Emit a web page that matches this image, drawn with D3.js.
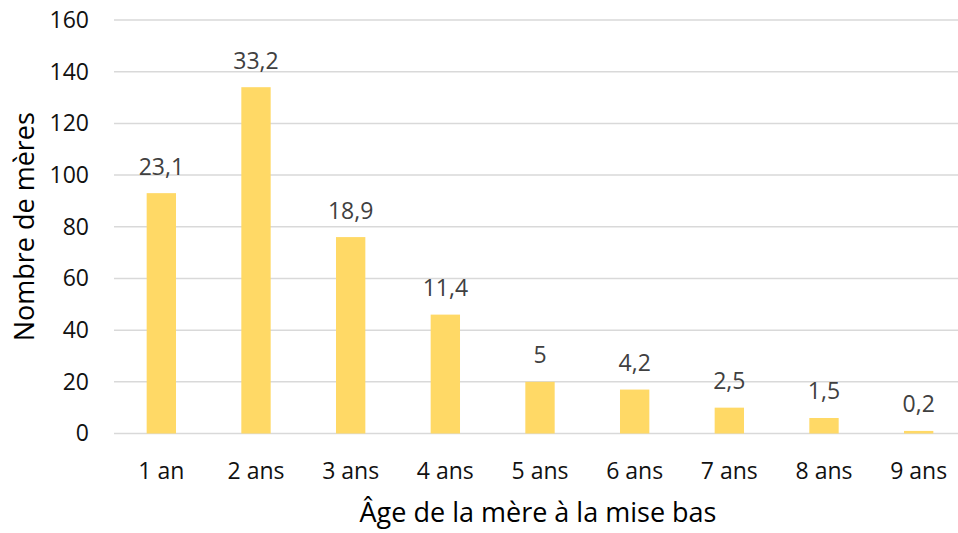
<!DOCTYPE html>
<html><head><meta charset="utf-8">
<script src="https://cdn.jsdelivr.net/npm/d3@7"></script>
<style>html,body{margin:0;padding:0;background:#fff;}svg{display:block;font-family:"Open Sans",sans-serif;}</style>
</head><body><svg id="c" width="958" height="533"></svg>
<script>
const categories = ["1 an","2 ans","3 ans","4 ans","5 ans","6 ans","7 ans","8 ans","9 ans"];
const counts = [93, 134, 76, 46, 20, 17, 10, 6, 1];
const percentLabels = ["23,1","33,2","18,9","11,4","5","4,2","2,5","1,5","0,2"];
const yTicks = [0,20,40,60,80,100,120,140,160];
const xTitle = "Âge de la mère à la mise bas";
const yTitle = "Nombre de mères";

(function(){
const svg = d3.select("#c");
const mL = 114, mR = 966, mT = 20, mB = 433.5;
const x = d3.scaleBand().domain(categories).range([mL, mR]).paddingInner(0.69).paddingOuter(0.345);
const y = d3.scaleLinear().domain([0,160]).range([mB, mT]);

// gridlines
svg.append("g").selectAll("line").data(yTicks).join("line")
  .attr("x1", mL).attr("x2", 958)
  .attr("y1", d=>y(d)).attr("y2", d=>y(d))
  .attr("stroke", "#d9d9d9").attr("stroke-width", 1.5);

// y axis labels
const yAxis = d3.axisLeft(y).tickValues(yTicks).tickSize(0).tickPadding(0);
const ya = svg.append("g").attr("transform", `translate(${mL-25},0)`).call(yAxis);
ya.select(".domain").remove();
ya.selectAll("text").attr("font-size", 23).attr("fill", "#111").attr("font-family","Open Sans");

// x axis labels
const xAxis = d3.axisBottom(x).tickSize(0).tickPadding(0);
const xa = svg.append("g").attr("transform", `translate(0,${mB+29})`).call(xAxis);
xa.select(".domain").remove();
xa.selectAll("text").attr("font-size", 23).attr("fill", "#111").attr("font-family","Open Sans");

// bars
svg.append("g").selectAll("rect").data(counts).join("rect")
  .attr("x", (d,i)=>x(categories[i]))
  .attr("width", x.bandwidth())
  .attr("y", d=>y(d))
  .attr("height", d=>mB - y(d))
  .attr("fill", "#ffd966");

// data labels
svg.append("g").selectAll("text").data(counts).join("text")
  .attr("x", (d,i)=>x(categories[i]) + x.bandwidth()/2)
  .attr("y", d=>y(d) - 18.5)
  .attr("text-anchor", "middle")
  .attr("font-size", 23).attr("fill", "#404040")
  .text((d,i)=>percentLabels[i]);

// axis titles
svg.append("text").attr("x", 538).attr("y", 522)
  .attr("text-anchor","middle").attr("font-size", 27).attr("fill","#000").text(xTitle);
svg.append("text").attr("transform", `translate(34,${(mT+mB)/2}) rotate(-90)`)
  .attr("text-anchor","middle").attr("font-size", 27).attr("fill","#000").text(yTitle);
})();
</script></body></html>
